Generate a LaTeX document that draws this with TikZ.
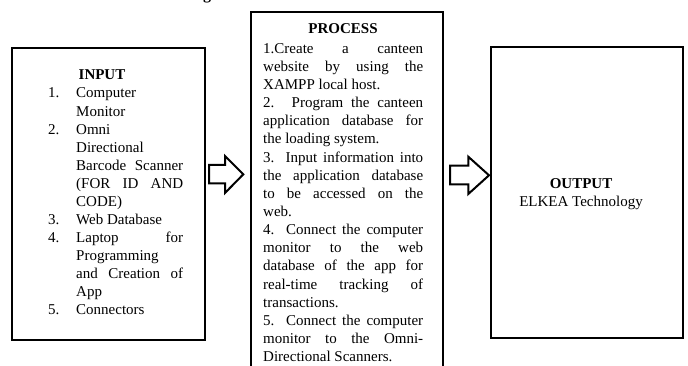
\documentclass[tikz,border=0pt]{standalone}
\usepackage{fontspec}
\setmainfont{Liberation Serif}
\newcommand\myPJ[1]{\makebox[160pt][s]{#1}}
\newcommand\myIJ[1]{\makebox[107pt][s]{#1}}
\tikzset{
  box/.style={draw, line width=2.4pt, inner sep=0pt, rectangle},
  blockarrow/.style={draw, line width=2pt, fill=white, line join=miter},
  txt/.style={inner sep=0pt, font=\fontsize{15}{18}\selectfont},
  ttl/.style={inner sep=0pt, font=\fontsize{15}{18}\selectfont\bfseries, anchor=base},
}
\begin{document}
\begin{tikzpicture}[x=1pt,y=-1pt]
\useasboundingbox (0,0) rectangle (688,366);
\clip (0,0) rectangle (688,366);
% boxes
\node[box, minimum width=193pt, minimum height=292pt] (inbox) at (108.5,194) {};
\node[box, minimum width=192.3pt, minimum height=380pt] (procbox) at (346.85,202) {};
\node[box, minimum width=192.3pt, minimum height=291pt] (outbox) at (587,192.5) {};
% cut-off heading fragment
\node[ttl, font=\fontsize{16}{18}\selectfont\bfseries] (hdg) at (207,-0.5) {g};
% block arrows
\draw[blockarrow] (209,165) -- (225,165) -- (225,156) -- (243.3,174.3) -- (225,193) -- (225,183.5) -- (209,183.5) -- cycle;
\draw[blockarrow] (450,165.7) -- (468.3,165.7) -- (468.3,156.7) -- (489,175.3) -- (468.3,194) -- (468.3,184.5) -- (450,184.5) -- cycle;
% titles
\node[ttl] (intitle) at (102,80) {INPUT};
\node[ttl] (proctitle) at (343,34) {PROCESS};
\node[ttl] (outtitle) at (581,189) {OUTPUT};
\node[txt, anchor=base] (outtext) at (581,207) {ELKEA Technology};
% process lines
\foreach \t [count=\i] in {
  {\myPJ{1.Create a canteen}},
  {\myPJ{website by using the}},
  {XAMPP local host.},
  {\myPJ{2. Program the canteen}},
  {\myPJ{application database for}},
  {the loading system.},
  {\myPJ{3. Input information into}},
  {\myPJ{the application database}},
  {\myPJ{to be accessed on the}},
  {web.},
  {\myPJ{4. Connect the computer}},
  {\myPJ{monitor to the web}},
  {\myPJ{database of the app for}},
  {\myPJ{real-time tracking of}},
  {transactions.},
  {\myPJ{5. Connect the computer}},
  {\myPJ{monitor to the Omni-}},
  {Directional Scanners.}}
  {\node[txt, anchor=base west] (p\i) at (263,{53.3+18.14*(\i-1)}) {\t};}
% input lines
\foreach \n/\t [count=\i] in {
  1./{Computer},
  /{Monitor},
  2./{Omni},
  /{Directional},
  /{\myIJ{Barcode Scanner}},
  /{\myIJ{(FOR ID AND}},
  /{CODE)},
  3./{Web Database},
  4./{\myIJ{Laptop for}},
  /{Programming},
  /{\myIJ{and Creation of}},
  /{App},
  5./{Connectors}}
  {\node[txt, anchor=base west] (n\i) at (48,{98+18.08*(\i-1)}) {\n};
   \node[txt, anchor=base west] (l\i) at (76,{98+18.08*(\i-1)}) {\t};}
\end{tikzpicture}
\end{document}
